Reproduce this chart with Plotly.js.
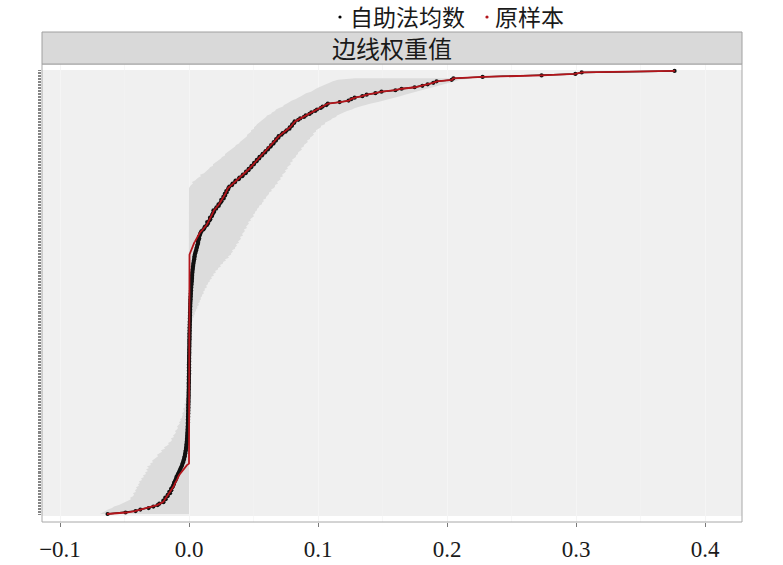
<!DOCTYPE html>
<html><head><meta charset="utf-8">
<script src="https://cdn.plot.ly/plotly-3.0.1.min.js"></script>
<style>html,body{margin:0;padding:0;background:#fff}#chart{width:783px;height:565px}</style>
</head><body><div id="chart"></div>
<script>
// Edges sorted by sample edge weight (index 0 = smallest)
const sample = [
-0.0636,-0.0488,-0.0419,-0.0372,-0.0318,-0.0271,-0.0248,-0.0225,-0.0202,-0.0194,
-0.0186,-0.0178,-0.0171,-0.0159,-0.0151,-0.0147,-0.0140,-0.0132,-0.0124,-0.0116,
-0.0112,-0.0109,-0.0101,-0.0093,-0.0089,-0.0085,-0.0078,-0.0070,-0.0062,-0.0054,
-0.0047,-0.0039,-0.0027,-0.0016,
0,0,0,0,0,0,0,0,0,0,0,0,0,0,0,0,0,0,0,0,
0,0,0,0,0,0,0,0,0,0,0,0,0,0,0,0,0,0,0,0,
0,0,0,0,0,0,0,0,0,0,0,0,0,0,0,0,0,0,0,0,
0,0,0,0,0,0,0,0,0,0,0,0,0,0,0,0,0,0,0,0,
0,0,0,0,0,0,0,0,0,0,0,0,0,0,0,0,0,0,0,0,
0,0,0,0,0,0,0,0,0,0,0,0,0,0,0,0,0,0,0,0,
0,0,0,0,0,0,0,0,0,0,0,0,0,0,0,0,0,0,0,0,
0,
0.0004,0.0008,0.0012,0.0015,0.0019,0.0024,0.0029,0.0035,0.0040,0.0047,
0.0053,0.0059,0.0066,0.0072,0.0079,0.0085,0.0097,0.0108,0.0116,0.0128,
0.0136,0.0142,0.0147,0.0155,0.0161,0.0167,0.0172,0.0178,0.0184,0.0188,
0.0194,0.0205,0.0216,0.0225,0.0233,0.0240,0.0248,0.0256,0.0264,0.0270,
0.0275,0.0281,0.0287,0.0293,0.0298,0.0302,0.0316,0.0329,0.0341,0.0353,
0.0364,0.0380,0.0395,0.0409,0.0422,0.0434,0.0445,0.0456,0.0467,0.0477,
0.0488,0.0498,0.0509,0.0519,0.0529,0.0539,0.0550,0.0562,0.0574,0.0585,
0.0597,0.0608,0.0619,0.0629,0.0640,0.0651,0.0660,0.0670,0.0679,0.0688,
0.0698,0.0713,0.0729,0.0744,0.0760,0.0775,0.0784,0.0794,0.0803,0.0812,
0.0822,0.0843,0.0865,0.0887,0.0908,0.0930,0.0952,0.0974,0.0995,0.1017,
0.1039,0.1062,0.1078,0.1171,0.1240,0.1256,0.1287,0.1341,0.1380,0.1442,
0.1496,0.1597,0.1651,0.1752,0.1806,0.1853,0.1891,0.1922,0.2039,0.2047,
0.2279,0.2736,0.2992,0.3047,0.3767
];
const bootMean = [
-0.0631,-0.0492,-0.0414,-0.0377,-0.0313,-0.0276,-0.0243,-0.0230,-0.0198,-0.0199,
-0.0181,-0.0184,-0.0166,-0.0165,-0.0147,-0.0153,-0.0137,-0.0139,-0.0129,-0.0123,
-0.0118,-0.0116,-0.0110,-0.0104,-0.0099,-0.0097,-0.0090,-0.0085,-0.0079,-0.0074,
-0.0069,-0.0064,-0.0058,-0.0053,
-0.0050,-0.0046,-0.0042,-0.0039,-0.0036,-0.0033,-0.0031,
-0.0029,-0.0027,-0.0025,-0.0023,-0.0022,-0.0020,-0.0019,-0.0018,-0.0017,-0.0016,
-0.0015,-0.0014,-0.0013,-0.0013,-0.0012,-0.0011,-0.0011,-0.0010,-0.0010,-0.0009,
-0.0009,-0.0008,-0.0008,-0.0008,-0.0007,-0.0007,-0.0007,-0.0006,-0.0006,-0.0006,
-0.0005,-0.0005,-0.0005,-0.0005,-0.0004,-0.0004,-0.0004,-0.0004,-0.0003,-0.0003,
-0.0003,-0.0003,-0.0003,-0.0002,-0.0002,-0.0002,-0.0002,-0.0002,-0.0001,-0.0001,
-0.0001,-0.0001,-0.0001,0,0,0,0,0,0,0,
0,0,0.0001,0.0001,0.0001,0.0001,0.0001,0.0002,0.0002,0.0002,
0.0002,0.0002,0.0003,0.0003,0.0003,0.0003,0.0003,0.0004,0.0004,0.0004,
0.0004,0.0004,0.0005,0.0005,0.0005,0.0005,0.0006,0.0006,0.0006,0.0007,
0.0007,0.0007,0.0007,0.0008,0.0008,0.0008,0.0009,0.0009,0.0009,0.0010,
0.0010,0.0010,0.0011,0.0011,0.0012,0.0012,0.0013,0.0014,0.0014,0.0015,
0.0016,0.0016,0.0017,0.0018,0.0019,0.0020,0.0021,0.0022,0.0023,0.0024,
0.0024,0.0025,0.0026,0.0027,0.0028,0.0030,0.0031,0.0033,0.0034,0.0036,
0.0038,0.0040,0.0042,0.0043,
0.0045,0.0048,0.0052,0.0055,0.0058,0.0061,0.0064,0.0067,0.0071,0.0069,
0.0075,0.0079,0.0077,0.0083,0.0087,0.0091,0.0098,0.0112,0.0119,0.0124,
0.0139,0.0147,0.0141,0.0159,0.0165,0.0163,0.0177,0.0181,0.0186,0.0195,
0.0190,0.0210,0.0213,0.0231,0.0229,0.0244,0.0252,0.0250,0.0269,0.0266,
0.0280,0.0277,0.0292,0.0289,0.0303,0.0306,0.0313,0.0334,0.0338,0.0358,
0.0361,0.0385,0.0391,0.0413,0.0418,0.0439,0.0442,0.0461,0.0463,0.0482,
0.0485,0.0503,0.0505,0.0524,0.0526,0.0544,0.0547,0.0566,0.0571,0.0590,
0.0594,0.0612,0.0616,0.0633,0.0637,0.0655,0.0657,0.0674,0.0676,0.0693,
0.0695,0.0717,0.0726,0.0748,0.0757,0.0779,0.0781,0.0798,0.0800,0.0816,
0.0819,0.0847,0.0862,0.0891,0.0905,0.0934,0.0949,0.0978,0.0992,0.1021,
0.1036,0.1065,0.1076,0.1168,0.1237,0.1259,0.1284,0.1344,0.1377,0.1445,
0.1492,0.1600,0.1648,0.1749,0.1809,0.1850,0.1894,0.1919,0.2036,0.2050,
0.2276,0.2733,0.2995,0.3044,0.3764
];
const ciLower = [
-0.0690,-0.0667,-0.0643,-0.0628,-0.0597,-0.0581,-0.0543,-0.0527,-0.0496,-0.0473,
-0.0450,-0.0457,-0.0434,-0.0426,-0.0434,-0.0411,-0.0419,-0.0403,-0.0411,-0.0388,
-0.0395,-0.0380,-0.0388,-0.0364,-0.0372,-0.0349,-0.0357,-0.0333,-0.0341,-0.0318,
-0.0333,-0.0310,-0.0326,-0.0295,-0.0302,-0.0279,-0.0287,-0.0264,-0.0256,-0.0240,
-0.0248,-0.0225,-0.0209,-0.0217,-0.0186,-0.0194,-0.0171,-0.0155,-0.0163,-0.0140,
-0.0132,-0.0140,-0.0116,-0.0124,-0.0109,-0.0101,-0.0109,-0.0093,-0.0085,-0.0093,
-0.0078,-0.0070,-0.0078,-0.0062,-0.0070,-0.0054,-0.0054,-0.0047,-0.0054,-0.0039,
-0.0039,-0.0047,-0.0031,-0.0031,-0.0039,-0.0023,-0.0023,-0.0031,-0.0016,-0.0016,
-0.0012,-0.0008,-0.0004,
0,0,0,0,0,0,0,0,0,0,
0,0,0,0,0,0,0,0,0,0,
0,0,0,0,0,0,0,0,0,0,
0,0,0,0,0,0,0,0,0,0,
0,0,0,0,0,0,0,0,0,0,
0,0,0,0,0,0,0,0,0,0,
0,0,0,0,0,0,0,0,0,0,
0,0,0,0,0,0,0,0,0,0,
0,0,0,0,0,0,0,0,0,0,
0,0,0,0,0,0,0,0,0,0,
0,0,0,0,0,0,0,0,0,0,
0,0,0,0,0,0,0,0,0,0,
0,0,0,0,0,0,0,0,0,0,
0,0,0,0,0,0,0,0,
0.0008,0.0016,0.0031,0.0023,0.0047,0.0062,0.0070,0.0093,0.0085,0.0116,
0.0124,0.0140,0.0155,0.0163,0.0186,0.0186,0.0209,0.0217,0.0233,0.0248,
0.0256,0.0279,0.0279,0.0302,0.0318,0.0326,0.0341,0.0357,0.0364,0.0388,
0.0395,0.0411,0.0419,0.0434,0.0450,0.0450,0.0465,0.0481,0.0481,0.0504,
0.0504,0.0519,0.0527,0.0535,0.0550,0.0566,0.0581,0.0597,0.0605,0.0636,
0.0643,0.0667,0.0674,0.0698,0.0729,0.0736,0.0760,0.0783,0.0798,0.0829,
0.0845,0.0868,0.0891,0.0907,0.0946,0.0961,0.0984,0.1008,0.1031,0.1062,
0.1085,0.1116,0.1155,0.1287,
null,null,null,null,null
];
const ciUpper = [
0,0,0,0,0,0,0,0,0,0,
0,0,0,0,0,0,0,0,0,0,
0,0,0,0,0,0,0,0,0,0,
0,0,0,0,0,0,0,0,0,0,
0,0,0,0,0,0,0,0,0,0,
0,0,0,0,0,0,0,0,0,0,
0,0,0,0,0,0,0,0,0,0,
0,0,0,0,0,0,0,0,0,0,
0,0,0,0,0,0,0,0,0,0,
0,0,0,0,0,0,0,0,0,0,
0,0,0,0,0,0,0,0,0,0,
0,0,0,0,0,0,0,0,0,0,
0,0,
0.0002,0.0004,0.0008,0.0008,0.0012,0.0016,0.0016,0.0023,0.0023,0.0031,
0.0027,0.0039,0.0035,0.0047,0.0043,0.0054,0.0054,0.0066,0.0062,0.0078,
0.0070,0.0085,0.0081,0.0093,0.0089,0.0101,0.0101,0.0116,0.0109,0.0124,
0.0120,0.0140,0.0132,0.0147,0.0147,0.0163,0.0159,0.0178,0.0171,0.0194,
0.0186,0.0209,0.0202,0.0225,0.0225,0.0248,0.0240,0.0264,0.0264,0.0287,
0.0279,0.0310,0.0302,0.0326,0.0326,0.0341,0.0333,0.0357,0.0357,0.0372,
0.0364,0.0388,0.0380,0.0395,0.0403,0.0395,0.0419,0.0411,0.0426,0.0434,
0.0426,0.0450,0.0442,0.0457,0.0465,0.0457,
0.0481,0.0473,0.0488,0.0504,0.0496,0.0512,0.0512,0.0527,0.0527,0.0543,
0.0543,0.0566,0.0566,0.0581,0.0574,0.0597,0.0597,0.0612,0.0620,0.0620,
0.0643,0.0636,0.0659,0.0667,0.0667,0.0690,0.0682,0.0698,0.0713,0.0705,
0.0729,0.0721,0.0736,0.0752,0.0744,0.0767,0.0760,0.0775,0.0791,0.0783,
0.0806,0.0798,0.0814,0.0829,0.0829,0.0845,0.0845,0.0860,0.0876,0.0868,
0.0891,0.0891,0.0907,0.0922,0.0915,0.0938,0.0938,0.0953,0.0969,0.0961,
0.0984,0.0984,0.1000,0.1023,0.1023,0.1054,0.1054,0.1078,0.1101,0.1109,
0.1140,0.1147,0.1171,0.1202,0.1225,0.1264,0.1287,0.1326,0.1364,0.1411,
0.1465,0.1512,0.1558,0.1597,0.1636,0.1674,0.1713,0.1752,0.1798,0.1845,
0.1891,0.1938,0.1984,0.2023,0.2062,0.2101,0.2217,
null,null,null,null,null
];
const xTickVals = [-0.1, 0, 0.1, 0.2, 0.3, 0.4];
const xTickText = ['\u22120.1', '0.0', '0.1', '0.2', '0.3', '0.4'];
const seriesNames = ['自助法均数', '原样本'];
const panelTitle = '边线权重值';

const edgeIdx = sample.map((_, i) => i);
const bandX = [], bandY = [];
edgeIdx.forEach(i => { if (ciUpper[i] !== null) { bandX.push(ciUpper[i]); bandY.push(i); } });
for (let i = edgeIdx.length - 1; i >= 0; i--) {
  if (ciLower[i] !== null) { bandX.push(ciLower[i]); bandY.push(i); }
}

const RED = '#b3151b';
const traces = [
  { x: bandX, y: bandY, type: 'scatter', mode: 'lines', fill: 'toself',
    fillcolor: '#dcdcdc', line: { width: 0, color: '#dcdcdc' }, hoverinfo: 'skip', showlegend: false },
  { x: bootMean, y: edgeIdx, type: 'scatter', mode: 'lines+markers', name: seriesNames[0],
    line: { color: '#111111', width: 1.4 }, marker: { color: '#111111', size: 4.2 }, showlegend: false },
  { x: sample, y: edgeIdx, type: 'scatter', mode: 'lines', name: seriesNames[1],
    line: { color: RED, width: 1.8 }, showlegend: false }
];

const L = 42, R = 41, T = 64, B = 43, H = 565 - T - B, W = 783 - L - R;
const px = v => (v - L) / W;
const py = v => (565 - B - v) / H;

const layout = {
  width: 783, height: 565,
  margin: { l: L, r: R, t: T, b: B, pad: 0 },
  paper_bgcolor: '#ffffff', plot_bgcolor: '#ffffff',
  showlegend: false,
  xaxis: {
    range: [-0.11395, 0.42868], tickvals: xTickVals, ticktext: xTickText,
    ticks: 'outside', ticklen: 4, tickwidth: 1, tickcolor: '#7a7a7a',
    tickfont: { family: 'Liberation Serif, Times New Roman, serif', size: 23, color: '#1a1a1a' },
    ticklabelstandoff: 2,
    showgrid: true, gridcolor: '#f5f5f5', gridwidth: 1,
    minor: { dtick: 0.05, showgrid: true, gridcolor: '#f4f4f4', gridwidth: 0.6 },
    zeroline: false, showline: false, fixedrange: true
  },
  yaxis: {
    range: [-5.4, 303.7], tickvals: edgeIdx, ticks: 'outside', ticklen: 3,
    tickwidth: 0.6, tickcolor: '#333333', showticklabels: false,
    showgrid: false, zeroline: false, showline: false, fixedrange: true
  },
  shapes: [
    { type: 'rect', xref: 'paper', yref: 'y', x0: 0, x1: 1, y0: -1.35, y1: 299.7,
      fillcolor: '#f0f0f0', line: { width: 0 }, layer: 'below' },
    { type: 'rect', xref: 'paper', yref: 'paper', x0: 0, x1: 1, y0: 0, y1: 1,
      fillcolor: 'rgba(0,0,0,0)', line: { color: '#a8a8a8', width: 1 }, layer: 'above' },
    { type: 'rect', xref: 'paper', yref: 'paper', x0: 0, x1: 1, y0: 1, y1: py(32),
      fillcolor: '#d9d9d9', line: { color: '#a0a0a0', width: 1 }, layer: 'above' },
    { type: 'circle', xref: 'paper', yref: 'paper', xsizemode: 'pixel', ysizemode: 'pixel',
      xanchor: px(340), yanchor: py(17), x0: -1.6, x1: 1.6, y0: -1.6, y1: 1.6,
      fillcolor: '#000000', line: { width: 0 } },
    { type: 'circle', xref: 'paper', yref: 'paper', xsizemode: 'pixel', ysizemode: 'pixel',
      xanchor: px(487), yanchor: py(17), x0: -1.6, x1: 1.6, y0: -1.6, y1: 1.6,
      fillcolor: RED, line: { width: 0 } }
  ],
  annotations: [
    { text: panelTitle, xref: 'paper', yref: 'paper', x: 0.5, y: py(48),
      xanchor: 'center', yanchor: 'middle', showarrow: false,
      font: { family: 'Noto Sans CJK SC, sans-serif', size: 24, color: '#1a1a1a' } },
    { text: seriesNames[0], xref: 'paper', yref: 'paper', x: px(348), y: py(16.5),
      xanchor: 'left', yanchor: 'middle', showarrow: false,
      font: { family: 'Noto Sans CJK SC, sans-serif', size: 23, color: '#1a1a1a' } },
    { text: seriesNames[1], xref: 'paper', yref: 'paper', x: px(493), y: py(16.5),
      xanchor: 'left', yanchor: 'middle', showarrow: false,
      font: { family: 'Noto Sans CJK SC, sans-serif', size: 23, color: '#1a1a1a' } }
  ]
};

Plotly.newPlot('chart', traces, layout, { displayModeBar: false, staticPlot: true });
</script>
</body></html>
